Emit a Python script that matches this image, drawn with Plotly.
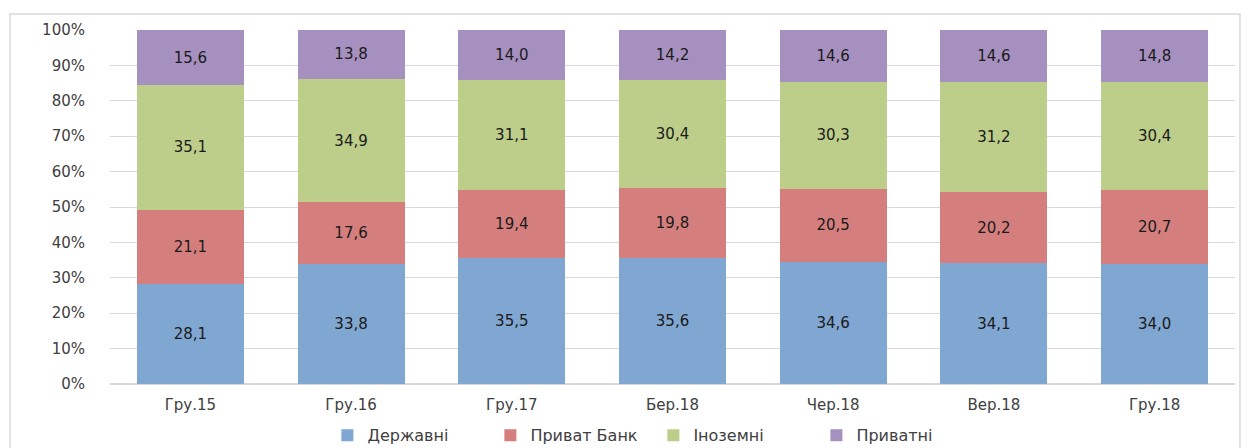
import plotly.graph_objects as go

categories = ["Гру.15", "Гру.16", "Гру.17", "Бер.18", "Чер.18", "Вер.18", "Гру.18"]
derzhavni = [28.1, 33.8, 35.5, 35.6, 34.6, 34.1, 34.0]
pryvat = [21.1, 17.6, 19.4, 19.8, 20.5, 20.2, 20.7]
inozemni = [35.1, 34.9, 31.1, 30.4, 30.3, 31.2, 30.4]
pryvatni = [15.6, 13.8, 14.0, 14.2, 14.6, 14.6, 14.8]

series = [
    ("Державні", derzhavni, "#80A6D2"),
    ("Приват Банк", pryvat, "#D47F7E"),
    ("Іноземні", inozemni, "#BCCE8A"),
    ("Приватні", pryvatni, "#A690BF"),
]

font = "DejaVu Sans"
fig = go.Figure()
for name, vals, col in series:
    fig.add_trace(go.Bar(
        name=name, x=categories, y=vals,
        marker=dict(color=col, line=dict(width=0)),
        text=[f"{v:.1f}".replace(".", ",") for v in vals],
        textposition="inside", insidetextanchor="middle",
        textfont=dict(family=font, size=15, color="#1a1a1a"),
        hoverinfo="skip",
    ))

fig.update_layout(
    barmode="stack", barnorm="percent", bargap=0.335,
    width=1242, height=440,
    margin=dict(l=102, r=15, t=22, b=64, autoexpand=False),
    paper_bgcolor="white", plot_bgcolor="white",
    font=dict(family=font, size=14, color="#404040"),
    uniformtext=dict(mode="show", minsize=15),
    legend=dict(orientation="h", x=0.483, xanchor="center", y=-0.145, yanchor="middle",
                font=dict(family=font, size=16, color="#404040"), traceorder="normal",
                itemwidth=30, itemsizing="constant",
                entrywidth=118, entrywidthmode="pixels"),
    xaxis=dict(showgrid=False, showline=False, ticks="", automargin=False,
               ticklabelstandoff=10,
               tickfont=dict(family=font, size=15, color="#404040")),
    yaxis=dict(range=[0, 100], dtick=10, ticksuffix="%", showgrid=True,
               gridcolor="#D9D9D9", gridwidth=1, zeroline=True, zerolinecolor="#D9D9D9",
               ticks="", ticklabelstandoff=24, automargin=False,
               tickfont=dict(family=font, size=15, color="#404040")),
    shapes=[dict(type="rect", xref="paper", yref="paper",
                 x0=-0.0889, x1=1.0044, y0=-0.19, y1=1.045,
                 line=dict(color="#D9D9D9", width=1.5), layer="below")],
)

fig.write_html("out.html")
